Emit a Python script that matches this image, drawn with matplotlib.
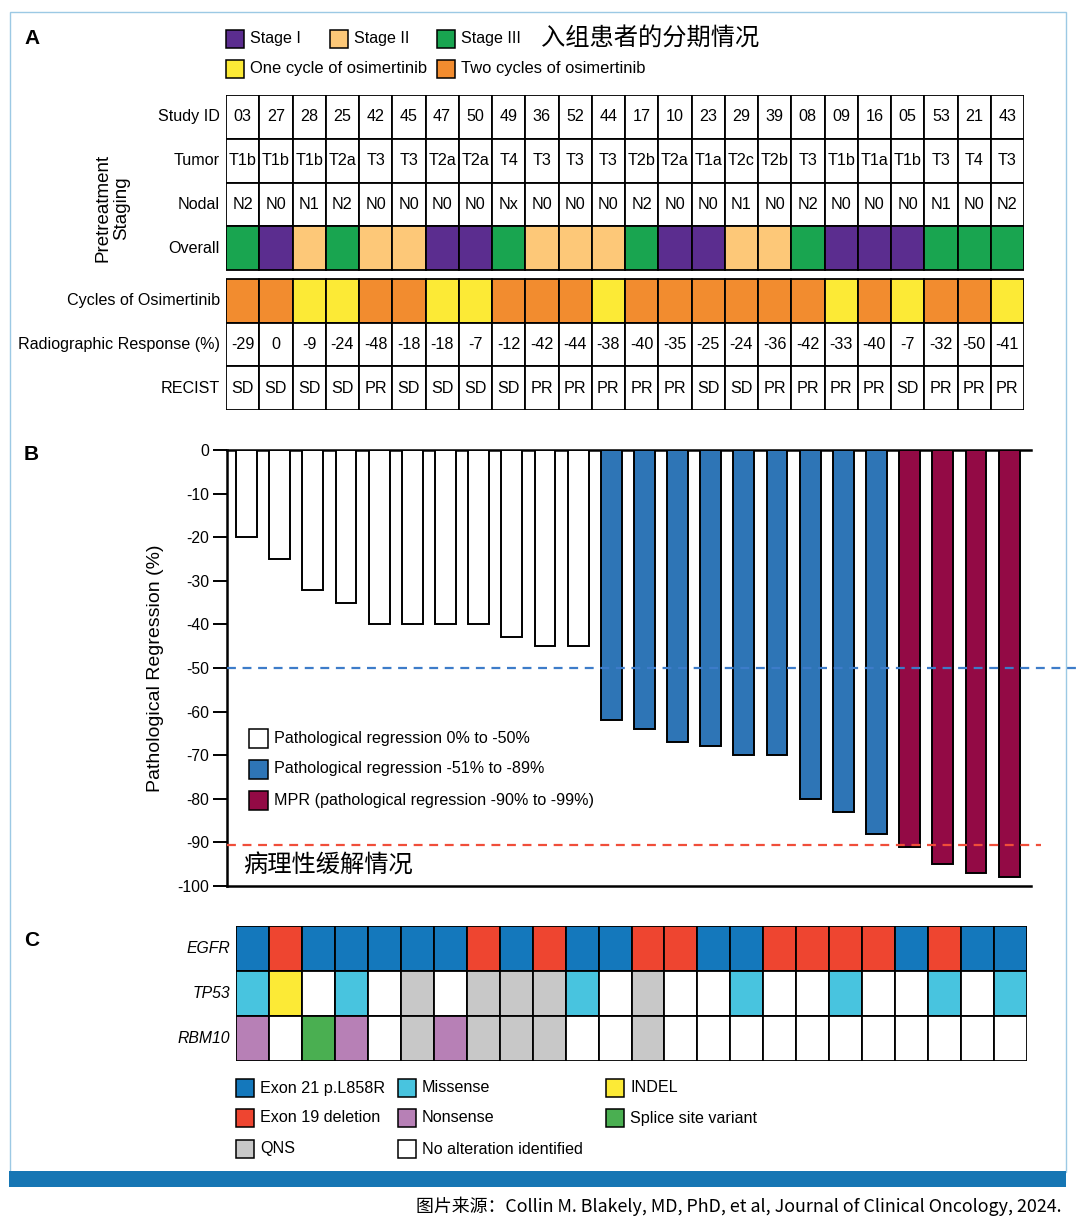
import numpy as np
import matplotlib
matplotlib.use('Agg')
import matplotlib.pyplot as plt
from matplotlib.patches import Rectangle

plt.rcParams['font.family'] = ['Liberation Sans', 'Noto Sans CJK SC', 'DejaVu Sans']
plt.rcParams['axes.unicode_minus'] = False

# ---- data ----
study_id = ['03', '27', '28', '25', '42', '45', '47', '50', '49', '36', '52', '44',
            '17', '10', '23', '29', '39', '08', '09', '16', '05', '53', '21', '43']
tumor = ['T1b', 'T1b', 'T1b', 'T2a', 'T3', 'T3', 'T2a', 'T2a', 'T4', 'T3', 'T3', 'T3',
         'T2b', 'T2a', 'T1a', 'T2c', 'T2b', 'T3', 'T1b', 'T1a', 'T1b', 'T3', 'T4', 'T3']
nodal = ['N2', 'N0', 'N1', 'N2', 'N0', 'N0', 'N0', 'N0', 'Nx', 'N0', 'N0', 'N0',
         'N2', 'N0', 'N0', 'N1', 'N0', 'N2', 'N0', 'N0', 'N0', 'N1', 'N0', 'N2']
overall = ['III', 'I', 'II', 'III', 'II', 'II', 'I', 'I', 'III', 'II', 'II', 'II',
           'III', 'I', 'I', 'II', 'II', 'III', 'I', 'I', 'I', 'III', 'III', 'III']
cycles = [2, 2, 1, 1, 2, 2, 1, 1, 2, 2, 2, 1, 2, 2, 2, 2, 2, 2, 1, 2, 1, 2, 2, 1]
radio_resp = [-29, 0, -9, -24, -48, -18, -18, -7, -12, -42, -44, -38,
              -40, -35, -25, -24, -36, -42, -33, -40, -7, -32, -50, -41]
recist = ['SD', 'SD', 'SD', 'SD', 'PR', 'SD', 'SD', 'SD', 'SD', 'PR', 'PR', 'PR',
          'PR', 'PR', 'SD', 'SD', 'PR', 'PR', 'PR', 'PR', 'SD', 'PR', 'PR', 'PR']

path_regr = [-20, -25, -32, -35, -40, -40, -40, -40, -43, -45, -45, -62,
             -64, -67, -68, -70, -70, -80, -83, -88, -91, -95, -97, -98]

genes = ['EGFR', 'TP53', 'RBM10']
egfr = ['L858R', 'del19', 'L858R', 'L858R', 'L858R', 'L858R', 'L858R', 'del19',
        'L858R', 'del19', 'L858R', 'L858R', 'del19', 'del19', 'L858R', 'L858R',
        'del19', 'del19', 'del19', 'del19', 'L858R', 'del19', 'L858R', 'L858R']
tp53 = ['mis', 'indel', 'none', 'mis', 'none', 'qns', 'none', 'qns', 'qns', 'qns', 'mis', 'none',
        'qns', 'none', 'none', 'mis', 'none', 'none', 'mis', 'none', 'none', 'mis', 'none', 'mis']
rbm10 = ['non', 'none', 'splice', 'non', 'none', 'qns', 'non', 'qns', 'qns', 'qns', 'none', 'none',
         'qns', 'none', 'none', 'none', 'none', 'none', 'none', 'none', 'none', 'none', 'none', 'none']

# ---- colours ----
stage_col = {'I': '#5B2D8F', 'II': '#FDC878', 'III': '#19A550'}
cycle_col = {1: '#FCEA36', 2: '#F28C2F'}
mut_col = {'L858R': '#1478BC', 'del19': '#EE4530', 'mis': '#48C4DF', 'non': '#B780B6',
           'qns': '#C8C8C8', 'indel': '#FCEA36', 'splice': '#4AAF51', 'none': 'white'}
white_c, blue_c, mpr_c = 'white', '#2E75B6', '#930A45'

W, H = 1080, 1220
fig = plt.figure(figsize=(W / 100, H / 100), dpi=100)
fig.patch.set_facecolor('white')


def px_axes(left, top, right, bottom):
    return fig.add_axes([left / W, 1 - bottom / H, (right - left) / W, (bottom - top) / H])


# page layer for frame, labels and legends (pixel coordinates), drawn on top
page = fig.add_axes([0, 0, 1, 1])
page.set_xlim(0, W)
page.set_ylim(H, 0)
page.axis('off')
page.set_zorder(5)
page.add_patch(Rectangle((9.5, 12), 1056, 1160, fill=False, edgecolor='#9CC9E4', lw=1))
page.add_patch(Rectangle((9, 1171), 1057, 16, facecolor='#1676B4', edgecolor='none'))
page.text(1062, 1206, '图片来源：Collin M. Blakely, MD, PhD, et al, Journal of Clinical Oncology, 2024.',
          ha='right', va='center', fontsize=12.9, family=['Noto Sans CJK SC', 'DejaVu Sans'])

for lab, y in [('A', 39), ('B', 455), ('C', 940)]:
    page.text(24, y, lab, fontsize=15, fontweight='bold', ha='left', va='center')


def swatch(x, y, color, label, size=18, fs=11.3):
    page.add_patch(Rectangle((x, y - size / 2), size, size, facecolor=color,
                             edgecolor='black', lw=1.1))
    page.text(x + size + 6, y, label, ha='left', va='center', fontsize=fs)


swatch(226, 39, stage_col['I'], 'Stage I', fs=11.6)
swatch(330, 39, stage_col['II'], 'Stage II', fs=11.6)
swatch(437, 39, stage_col['III'], 'Stage III', fs=11.6)
page.text(541, 39, '入组患者的分期情况', ha='left', va='center', fontsize=17.5,
          family=['Noto Sans CJK SC', 'DejaVu Sans'])
swatch(226, 69, cycle_col[1], 'One cycle of osimertinib', fs=11.9)
swatch(437, 69, cycle_col[2], 'Two cycles of osimertinib', fs=11.9)

# ---- panel A: table ----
n = len(study_id)
ax_a = px_axes(226, 95, 1024, 410)
ax_a.set_xlim(0, n)
ax_a.set_ylim(7.2, 0)
ax_a.axis('off')

rows = [
    ('Study ID', 0, study_id, None),
    ('Tumor', 1, tumor, None),
    ('Nodal', 2, nodal, None),
    ('Overall', 3, None, [stage_col[s] for s in overall]),
    ('Cycles of Osimertinib', 4.2, None, [cycle_col[c] for c in cycles]),
    ('Radiographic Response (%)', 5.2, [str(v) for v in radio_resp], None),
    ('RECIST', 6.2, recist, None),
]
for label, y0, texts, colors in rows:
    ax_a.text(-0.18, y0 + 0.5, label, ha='right', va='center', fontsize=11.6)
    for i in range(n):
        fc = colors[i] if colors else 'white'
        ax_a.add_patch(Rectangle((i, y0), 1, 1, facecolor=fc, edgecolor='black', lw=1.3))
        if texts:
            ax_a.text(i + 0.5, y0 + 0.5, texts[i], ha='center', va='center', fontsize=11.6)

page.text(112, 208, 'Pretreatment\nStaging', rotation=90, ha='center', va='center',
          fontsize=13.5, multialignment='center', linespacing=1.15)

# ---- panel B: waterfall ----
ax_b = px_axes(227, 450, 1031, 886)
x = np.arange(n)
bar_cols = [white_c if v >= -50 else (blue_c if v > -90 else mpr_c) for v in path_regr]
ax_b.bar(x, path_regr, width=0.63, color=bar_cols, edgecolor='black', linewidth=1.4, zorder=3)
ax_b.set_xlim(-0.59, n - 0.34)
ax_b.set_ylim(-100, 0)
ax_b.set_yticks(np.arange(-100, 1, 10))
ax_b.set_xticks([])
ax_b.tick_params(axis='y', length=10, width=1.4, labelsize=11.3, pad=3)
ax_b.spines['right'].set_visible(False)
for s in ['left', 'top', 'bottom']:
    ax_b.spines[s].set_linewidth(1.8)
ax_b.plot([-0.59, n + 1.4], [-50, -50], ls=(0, (4, 3)), color='#3D7CC9', lw=1.6,
          clip_on=False, zorder=4)
ax_b.plot([-0.59, n - 0.05], [-90.5, -90.5], ls=(0, (4, 3)), color='#F04E3A', lw=1.6,
          clip_on=False, zorder=4)
page.text(155, 668, 'Pathological Regression (%)', rotation=90, ha='center', va='center',
          fontsize=14)

swatch(249, 738, white_c, 'Pathological regression 0% to -50%', size=19, fs=11.6)
swatch(249, 769, blue_c, 'Pathological regression -51% to -89%', size=19, fs=11.6)
swatch(249, 800, mpr_c, 'MPR (pathological regression -90% to -99%)', size=19, fs=11.6)
page.text(243, 866, '病理性缓解情况', ha='left', va='center', fontsize=17.5,
          family=['Noto Sans CJK SC', 'DejaVu Sans'])

# ---- panel C: mutation grid ----
ax_c = px_axes(236, 926, 1027, 1061)
ax_c.set_xlim(0, n)
ax_c.set_ylim(3, 0)
ax_c.axis('off')
for r, (gname, vals) in enumerate(zip(genes, [egfr, tp53, rbm10])):
    ax_c.text(-0.17, r + 0.5, gname, ha='right', va='center', fontsize=11.3, style='italic')
    for i in range(n):
        ax_c.add_patch(Rectangle((i, r), 1, 1, facecolor=mut_col[vals[i]],
                                 edgecolor='black', lw=1.3))

swatch(236, 1088, mut_col['L858R'], 'Exon 21 p.L858R', fs=11.6)
swatch(236, 1118, mut_col['del19'], 'Exon 19 deletion', fs=11.6)
swatch(236, 1149, mut_col['qns'], 'QNS', fs=11.6)
swatch(398, 1088, mut_col['mis'], 'Missense', fs=11.6)
swatch(398, 1118, mut_col['non'], 'Nonsense', fs=11.6)
swatch(398, 1149, mut_col['none'], 'No alteration identified', fs=11.6)
swatch(606, 1088, mut_col['indel'], 'INDEL', fs=11.6)
swatch(606, 1118, mut_col['splice'], 'Splice site variant', fs=11.6)

fig.savefig('out.png', dpi=100, facecolor='white')
